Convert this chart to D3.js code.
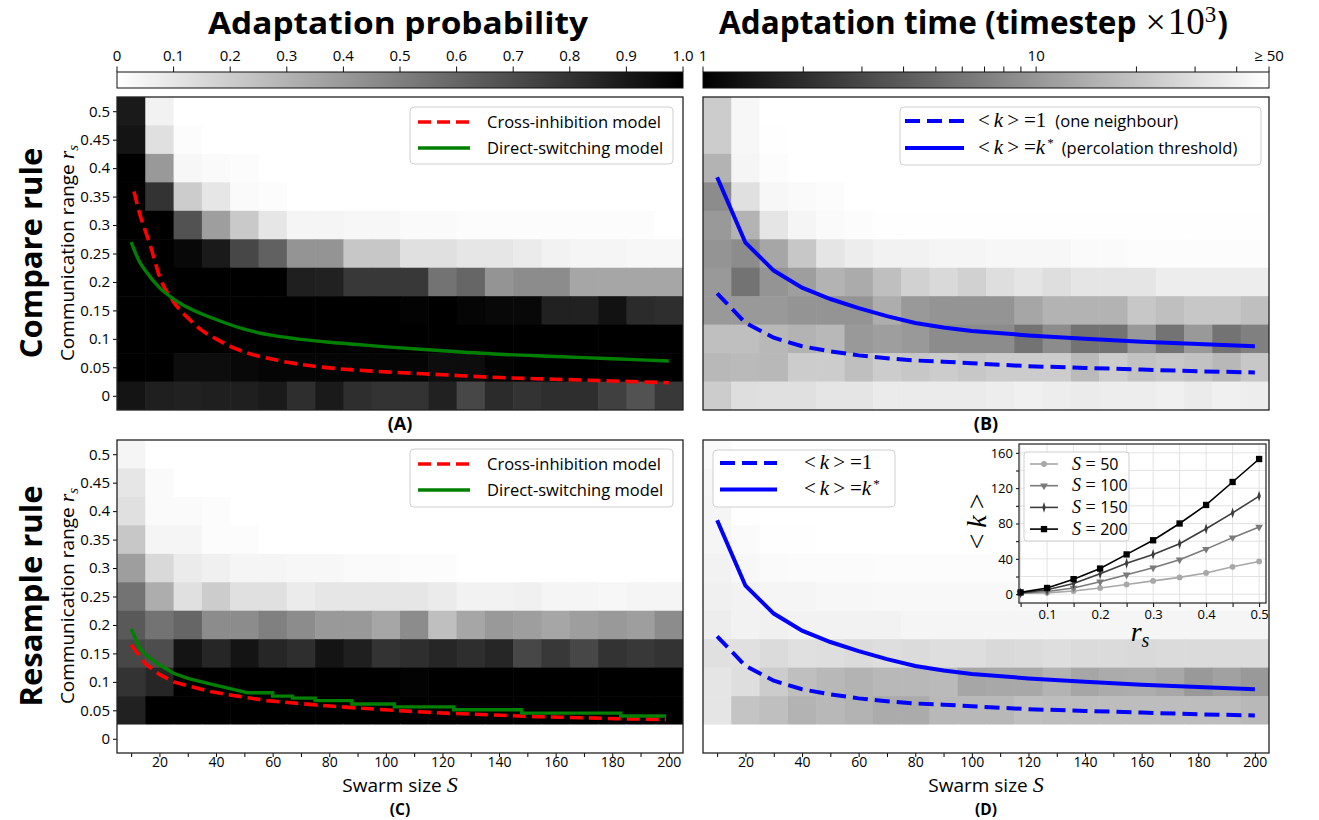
<!DOCTYPE html>
<html>
<head>
<meta charset="utf-8">
<script src="https://cdn.jsdelivr.net/npm/d3@7"></script>
<style>
    body { margin: 0; background: #fff; }
    text { font-family: "Open Sans", "DejaVu Sans", sans-serif; fill: #000; }
    .math { font-family: "Liberation Serif", "DejaVu Serif", serif; font-style: italic; }
    .mathup { font-family: "Liberation Serif", "DejaVu Serif", serif; font-style: normal; }
</style>
</head>
<body>
<svg id="fig" width="1319" height="820"></svg>
<script>
// swarm sizes (columns) and communication ranges (rows, top to bottom)
var sizes = [10, 20, 30, 40, 50, 60, 70, 80, 90, 100, 110, 120, 130, 140, 150, 160, 170, 180, 190, 200];
var ranges = [0.5, 0.45, 0.4, 0.35, 0.3, 0.25, 0.2, 0.15, 0.1, 0.05, 0];
var rangeTicks = [0, 0.05, 0.1, 0.15, 0.2, 0.25, 0.3, 0.35, 0.4, 0.45, 0.5];
var probTicks = [0, 0.1, 0.2, 0.3, 0.4, 0.5, 0.6, 0.7, 0.8, 0.9, 1.0];
var probTickLabels = ["0", "0.1", "0.2", "0.3", "0.4", "0.5", "0.6", "0.7", "0.8", "0.9", "1.0"];
var timeTicks = [1, 2, 3, 4, 5, 6, 7, 8, 9, 10, 20, 30, 40, 50];
var timeTickLabels = { 1: "1", 10: "10", 50: "\u2265 50" };

// (A) adaptation probability, compare rule
var probCompare = [
    [0.90, 0.05, 0, 0, 0, 0, 0, 0, 0, 0, 0, 0, 0, 0, 0, 0, 0, 0, 0, 0],
    [0.92, 0.12, 0.01, 0, 0, 0, 0, 0, 0, 0, 0, 0, 0, 0, 0, 0, 0, 0, 0, 0],
    [1.00, 0.40, 0.03, 0.02, 0.01, 0, 0, 0, 0, 0, 0, 0, 0, 0, 0, 0, 0, 0, 0, 0],
    [1.00, 0.80, 0.20, 0.10, 0.02, 0.01, 0, 0, 0, 0, 0, 0, 0, 0, 0, 0, 0, 0, 0, 0],
    [1.00, 1.00, 0.68, 0.38, 0.21, 0.10, 0.04, 0.04, 0.03, 0.03, 0.02, 0.02, 0.01, 0.01, 0.01, 0.01, 0.01, 0.01, 0.01, 0],
    [1.00, 1.00, 0.97, 0.90, 0.72, 0.62, 0.42, 0.42, 0.22, 0.22, 0.12, 0.12, 0.10, 0.10, 0.08, 0.05, 0.04, 0.04, 0.03, 0.03],
    [1.00, 1.00, 1.00, 1.00, 1.00, 1.00, 0.88, 0.87, 0.78, 0.78, 0.78, 0.55, 0.60, 0.42, 0.45, 0.45, 0.35, 0.35, 0.35, 0.35],
    [1.00, 1.00, 1.00, 1.00, 1.00, 1.00, 1.00, 1.00, 1.00, 1.00, 0.99, 1.00, 0.98, 0.97, 0.97, 0.87, 0.87, 0.93, 0.83, 0.82],
    [1.00, 1.00, 1.00, 1.00, 1.00, 1.00, 1.00, 1.00, 1.00, 1.00, 1.00, 1.00, 1.00, 1.00, 1.00, 1.00, 1.00, 1.00, 1.00, 1.00],
    [1.00, 1.00, 0.95, 0.95, 0.97, 0.98, 0.98, 0.98, 0.98, 0.98, 0.98, 0.95, 0.95, 0.99, 1.00, 1.00, 1.00, 1.00, 1.00, 1.00],
    [0.92, 0.88, 0.87, 0.88, 0.88, 0.90, 0.82, 0.90, 0.82, 0.80, 0.80, 0.87, 0.72, 0.83, 0.80, 0.82, 0.82, 0.75, 0.68, 0.78]
];

// (B) adaptation time (x1000 timesteps), compare rule
var timeCompare = [
    [22.9, 44.5, 50, 50, 50, 50, 50, 50, 50, 50, 50, 50, 50, 50, 50, 50, 50, 50, 50, 50],
    [22.9, 44.5, 49, 50, 50, 50, 50, 50, 50, 50, 50, 50, 50, 50, 50, 50, 50, 50, 50, 50],
    [15.5, 42.8, 48.1, 50, 50, 50, 50, 50, 50, 50, 50, 50, 50, 50, 50, 50, 50, 50, 50, 50],
    [8.6, 31.3, 44.5, 46.2, 48.1, 50, 50, 50, 50, 50, 50, 50, 50, 50, 50, 50, 50, 50, 50, 50],
    [10.5, 15.5, 33.8, 42.8, 46.2, 48.1, 49, 49, 49, 49, 49, 49, 49, 49, 49, 49, 49, 49, 49, 49],
    [9.7, 8.6, 12.7, 21.1, 33.8, 38.0, 41.1, 41.1, 42.8, 42.8, 44.5, 44.5, 44.5, 46.2, 46.2, 48.1, 48.1, 48.1, 48.1, 48.1],
    [10.5, 5.8, 9.7, 11.3, 15.5, 13.8, 18.8, 24.7, 27.8, 24.7, 30.1, 33.8, 30.1, 33.8, 33.8, 33.8, 38.0, 38.0, 38.0, 38.0],
    [10.5, 10.5, 10.5, 9.7, 9.7, 9.7, 14.3, 10.5, 9.7, 9.7, 9.7, 12.7, 15.5, 15.5, 15.5, 21.1, 18.8, 21.1, 21.1, 18.8],
    [18.8, 18.8, 16.7, 15.5, 16.7, 10.5, 11.3, 10.5, 8.6, 8.6, 8.6, 5.8, 8.6, 5.8, 5.8, 10.5, 5.8, 10.5, 5.8, 7.1],
    [16.7, 17.4, 16.7, 22.9, 22.9, 18.8, 22.9, 21.1, 22.9, 21.1, 22.9, 22.9, 22.9, 17.4, 22.9, 19.6, 21.1, 19.6, 16.7, 21.1],
    [22.9, 30.1, 31.3, 31.3, 33.8, 33.8, 36.6, 36.6, 36.6, 36.6, 38.0, 39.5, 38.0, 36.6, 38.0, 38.0, 39.5, 36.6, 39.5, 38.0]
];

// (C) adaptation probability, resample rule
var probResample = [
    [0.04, 0, 0, 0, 0, 0, 0, 0, 0, 0, 0, 0, 0, 0, 0, 0, 0, 0, 0, 0],
    [0.10, 0.02, 0, 0, 0, 0, 0, 0, 0, 0, 0, 0, 0, 0, 0, 0, 0, 0, 0, 0],
    [0.12, 0.02, 0.02, 0.01, 0, 0, 0, 0, 0, 0, 0, 0, 0, 0, 0, 0, 0, 0, 0, 0],
    [0.22, 0.04, 0.04, 0.01, 0.01, 0, 0, 0, 0, 0, 0, 0, 0, 0, 0, 0, 0, 0, 0, 0],
    [0.38, 0.15, 0.08, 0.06, 0.04, 0.04, 0.03, 0.03, 0.02, 0.02, 0.01, 0.01, 0, 0, 0, 0, 0, 0, 0, 0],
    [0.55, 0.32, 0.12, 0.20, 0.12, 0.12, 0.08, 0.10, 0.10, 0.10, 0.10, 0.08, 0.05, 0.05, 0.06, 0.04, 0.04, 0.03, 0.04, 0.04],
    [0.65, 0.55, 0.60, 0.45, 0.45, 0.50, 0.45, 0.40, 0.40, 0.35, 0.45, 0.25, 0.35, 0.40, 0.38, 0.35, 0.38, 0.40, 0.38, 0.45],
    [0.72, 0.70, 0.92, 0.85, 0.92, 0.85, 0.82, 0.92, 0.88, 0.80, 0.82, 0.85, 0.82, 0.85, 0.72, 0.78, 0.72, 0.80, 0.78, 0.80],
    [0.80, 0.85, 1.00, 1.00, 1.00, 1.00, 1.00, 1.00, 1.00, 1.00, 0.99, 1.00, 1.00, 1.00, 1.00, 1.00, 1.00, 1.00, 1.00, 1.00],
    [0.87, 1.00, 1.00, 1.00, 1.00, 1.00, 1.00, 1.00, 1.00, 1.00, 1.00, 1.00, 1.00, 1.00, 1.00, 1.00, 1.00, 1.00, 1.00, 1.00],
    [0, 0, 0, 0, 0, 0, 0, 0, 0, 0, 0, 0, 0, 0, 0, 0, 0, 0, 0, 0]
];

// (D) adaptation time (x1000 timesteps), resample rule
var timeResample = [
    [46.2, 50, 50, 50, 50, 50, 50, 50, 50, 50, 50, 50, 50, 50, 50, 50, 50, 50, 50, 50],
    [44.5, 50, 50, 50, 50, 50, 50, 50, 50, 50, 50, 50, 50, 50, 50, 50, 50, 50, 50, 50],
    [42.8, 49, 50, 50, 50, 50, 50, 50, 50, 50, 50, 50, 50, 50, 50, 50, 50, 50, 50, 50],
    [42.8, 46.2, 49, 49, 50, 50, 50, 50, 50, 50, 50, 50, 50, 50, 50, 50, 50, 50, 50, 50],
    [41.1, 44.5, 46.2, 47, 47, 47, 48, 48, 48, 48, 48, 48, 48, 48, 48, 48, 48, 48, 48, 48],
    [39.5, 41.1, 42.8, 42.8, 44.5, 44.5, 45, 45, 45, 45, 45, 45, 46, 46, 46, 46, 46, 46, 46, 46],
    [38.0, 41.1, 39.5, 41.1, 41.1, 41.1, 41.1, 42.8, 42.8, 42.8, 42.8, 42.8, 42.8, 42.8, 42.8, 42.8, 42.8, 42.8, 42.8, 42.8],
    [31.3, 31.3, 28.9, 31.3, 30.1, 28.9, 30.1, 28.9, 30.1, 30.1, 27.8, 28.9, 30.1, 28.9, 28.9, 27.8, 28.9, 28.9, 28.9, 28.9],
    [33.8, 30.1, 22.9, 18.8, 16.7, 15.5, 16.7, 16.7, 17.4, 12.7, 13.2, 13.2, 15.5, 12.7, 13.8, 14.3, 13.2, 10.5, 11.8, 10.5],
    [33.8, 20.3, 18.8, 15.5, 16.7, 15.5, 13.8, 13.8, 16.7, 16.7, 16.7, 18.8, 18.1, 18.1, 18.1, 18.1, 18.1, 18.1, 18.1, 16.7],
    [50, 50, 50, 50, 50, 50, 50, 50, 50, 50, 50, 50, 50, 50, 50, 50, 50, 50, 50, 50]
];

// model curves [S, r_s]
var crossCompare = [[11, 0.359], [13, 0.32], [15, 0.29], [17, 0.26], [20, 0.21], [25, 0.165], [30, 0.137], [35, 0.115],
    [40, 0.1], [45, 0.087], [50, 0.077], [60, 0.064], [70, 0.055], [80, 0.049], [90, 0.045], [100, 0.042],
    [120, 0.037], [140, 0.032], [160, 0.029], [180, 0.026], [200, 0.023]];
var directCompare = [[10, 0.27], [13, 0.235], [15, 0.22], [20, 0.19], [25, 0.17], [30, 0.155], [40, 0.134], [50, 0.117],
    [60, 0.106], [70, 0.099], [80, 0.094], [90, 0.09], [100, 0.086], [120, 0.079], [140, 0.073], [160, 0.069],
    [180, 0.065], [200, 0.061]];
var crossResample = [[10, 0.165], [15, 0.132], [20, 0.113], [25, 0.1], [30, 0.093], [38, 0.083], [46, 0.076], [58, 0.067],
    [74, 0.06], [90, 0.054], [106, 0.049], [121, 0.045], [137, 0.042], [153, 0.039], [169, 0.037], [184, 0.035], [199, 0.034]];
var directResample = [[10, 0.193], [13, 0.16], [15, 0.148], [20, 0.13], [25, 0.115], [30, 0.106], [35, 0.1], [40, 0.094],
    [45, 0.088], [51, 0.081], [60, 0.081], [60, 0.075], [67, 0.075], [67, 0.0715], [75, 0.0715], [75, 0.067],
    [88, 0.067], [88, 0.061], [103, 0.061], [103, 0.056], [124, 0.056], [124, 0.051], [148, 0.051], [148, 0.045],
    [183, 0.045], [183, 0.04], [199, 0.04]];
var degreeOne = [[10, 0.18], [20, 0.128], [30, 0.102], [40, 0.087], [50, 0.078], [60, 0.071], [70, 0.066], [80, 0.062],
    [90, 0.06], [100, 0.057], [120, 0.052], [140, 0.049], [160, 0.046], [180, 0.043], [200, 0.041]];
var degreeStar = [[10, 0.384], [20, 0.269], [30, 0.22], [40, 0.19], [50, 0.17], [60, 0.154], [70, 0.14], [80, 0.128],
    [90, 0.12], [100, 0.114], [120, 0.106], [140, 0.1], [160, 0.095], [180, 0.091], [200, 0.087]];

// inset: mean degree <k> against r_s
var insetRanges = [0.05, 0.1, 0.15, 0.2, 0.25, 0.3, 0.35, 0.4, 0.45, 0.5];
var degreeS50 = [1, 1.5, 3.5, 7, 11, 15, 19, 24, 31, 37];
var degreeS100 = [1, 3, 7, 14, 22, 30, 39, 51, 64, 76];
var degreeS150 = [1.5, 5, 12, 23, 35, 45, 57, 74, 92, 111];
var degreeS200 = [2, 7, 17, 29, 45, 61, 80, 101, 127, 153];

var svg = d3.select("#fig");
var W = 566, H = 313;
var x = d3.scaleLinear().domain([5, 205]).range([0, W]);
var y = d3.scaleLinear().domain([-0.025, 0.525]).range([H, 0]);
var probColor = d3.scaleLinear().domain([0, 1]).range(["#ffffff", "#000000"]);
var timeColor = d3.scaleLog().domain([1, 50]).range(["#000000", "#ffffff"]).clamp(true);

var defs = svg.append("defs");
defs.append("clipPath").attr("id", "panel-clip")
    .append("rect").attr("width", W).attr("height", H);

function mathText(sel, parts) {
    parts.forEach(function (p) {
        var t = sel.append("tspan").text(p.t);
        if (p.cls) t.attr("class", p.cls);
        if (p.dx) t.attr("dx", p.dx);
        if (p.dy) t.attr("dy", p.dy);
        if (p.size) t.attr("font-size", p.size);
        if (p.weight) t.attr("font-weight", p.weight);
    });
    return sel;
}

// ---- colour bars
function colorbar(left, id, color, stops, ticks, tickPos, labelOf) {
    var grad = defs.append("linearGradient").attr("id", id);
    stops.forEach(function (s) {
        grad.append("stop").attr("offset", s.o).attr("stop-color", color(s.v));
    });
    var g = svg.append("g").attr("transform", "translate(" + left + ",72)");
    g.append("rect").attr("width", W).attr("height", 16)
        .attr("fill", "url(#" + id + ")").attr("stroke", "#111").attr("stroke-width", 1);
    ticks.forEach(function (t) {
        var px = tickPos(t);
        g.append("line").attr("x1", px).attr("x2", px).attr("y1", 0).attr("y2", -5.5)
            .attr("stroke", "#111").attr("stroke-width", 1);
        var lab = labelOf(t);
        if (lab !== null) {
            g.append("text").attr("x", px).attr("y", -11).attr("text-anchor", "middle")
                .attr("font-size", 15).text(lab);
        }
    });
}

var probBar = d3.scaleLinear().domain([0, 1]).range([0, W]);
colorbar(117, "grad-prob", probColor,
    [{ o: 0, v: 0 }, { o: 1, v: 1 }], probTicks, probBar,
    function (t) { return probTickLabels[probTicks.indexOf(t)]; });

var timeBar = d3.scaleLog().domain([1, 50]).range([0, W]);
colorbar(703, "grad-time", timeColor,
    d3.range(0, 1.001, 0.05).map(function (o) { return { o: o, v: timeBar.invert(o * W) }; }),
    timeTicks, timeBar,
    function (t) { return timeTickLabels[t] === undefined ? null : timeTickLabels[t]; });

// ---- titles
svg.append("text").attr("x", 398).attr("y", 34).attr("text-anchor", "middle")
    .attr("font-size", 31).attr("font-weight", 700)
    .attr("textLength", 380).attr("lengthAdjust", "spacingAndGlyphs")
    .text("Adaptation probability");
mathText(svg.append("text").attr("x", 719).attr("y", 34).attr("font-size", 31.5).attr("font-weight", 700), [
    { t: "Adaptation time (timestep" },
    { t: "\u00d7", cls: "mathup", weight: 400, size: 36, dx: "9" },
    { t: "10", cls: "mathup", weight: 400, size: 37, dx: "2" },
    { t: "3", cls: "mathup", weight: 400, dy: "-12", size: 23 },
    { t: ")", dy: "12", dx: "1" }
]);

// ---- panels
function drawPanel(p) {
    var g = svg.append("g").attr("transform", "translate(" + p.left + "," + p.top + ")");
    var cells = [];
    p.grid.forEach(function (row, i) {
        row.forEach(function (v, j) {
            cells.push({ s: sizes[j], r: ranges[i], v: v });
        });
    });
    g.append("g").attr("clip-path", "url(#panel-clip)")
        .selectAll(".cell").data(cells).enter()
        .append("rect")
        .attr("x", function (d) { return x(d.s - 5); })
        .attr("y", function (d) { return y(d.r + 0.025); })
        .attr("width", x(15) - x(5) + 0.6)
        .attr("height", y(0) - y(0.05) + 0.6)
        .attr("fill", function (d) { return p.color(d.v); });

    var curves = g.append("g").attr("clip-path", "url(#panel-clip)");
    p.curves.forEach(function (c) {
        curves.append("path")
            .datum(c.data)
            .attr("fill", "none")
            .attr("stroke", c.stroke)
            .attr("stroke-width", c.width)
            .attr("stroke-dasharray", c.dash)
            .attr("d", d3.line()
                .curve(c.smooth ? d3.curveMonotoneX : d3.curveLinear)
                .x(function (d) { return x(d[0]); })
                .y(function (d) { return y(d[1]); }));
    });

    if (p.yTicks) {
        var ya = g.append("g").call(d3.axisLeft(y).tickValues(rangeTicks).tickSize(4).tickPadding(3)
            .tickFormat(function (d) { return String(d); }));
        ya.select(".domain").remove();
        ya.selectAll("text").attr("font-size", 15).attr("font-family", "Open Sans, sans-serif");
    }
    if (p.xTicks) {
        var xa = g.append("g").attr("transform", "translate(0," + H + ")")
            .call(d3.axisBottom(x).tickValues(sizes).tickSize(4).tickPadding(0)
                .tickFormat(function (d) { return d % 20 === 0 ? d : ""; }));
        xa.select(".domain").remove();
        xa.selectAll("text").attr("font-size", 14).attr("font-family", "Open Sans, sans-serif");
        mathText(g.append("text").attr("x", W / 2).attr("y", 352).attr("text-anchor", "middle").attr("font-size", 19), [
            { t: "Swarm size " }, { t: "S", cls: "math", size: 22 }
        ]);
    }
    g.append("rect").attr("width", W).attr("height", H)
        .attr("fill", "none").attr("stroke", "#222").attr("stroke-width", 1.3);
    g.append("text").attr("x", W / 2).attr("y", p.labelY).attr("text-anchor", "middle")
        .attr("font-size", p.labelSize).attr("font-weight", 700).text(p.label);
    return g;
}

function legend(g, box, items) {
    var lg = g.append("g").attr("transform", "translate(" + box.x + "," + box.y + ")");
    lg.append("rect").attr("width", box.w).attr("height", box.h).attr("rx", 4)
        .attr("fill", "#fff").attr("fill-opacity", 0.92).attr("stroke", "#cfcfcf");
    items.forEach(function (it, i) {
        var cy = box.first + i * box.step;
        lg.append("line").attr("x1", box.l1).attr("x2", box.l2).attr("y1", cy).attr("y2", cy)
            .attr("stroke", it.stroke).attr("stroke-width", it.width).attr("stroke-dasharray", it.dash);
        mathText(lg.append("text").attr("x", box.tx).attr("y", cy).attr("dy", "0.35em")
            .attr("font-size", box.size), it.parts);
    });
}

var red = { stroke: "#ff0000", width: 3.6, dash: "13,6" };
var green = { stroke: "#008000", width: 3.4, dash: null };
var blueDash = { stroke: "#0000ff", width: 4, dash: "15,7" };
var blueSolid = { stroke: "#0000ff", width: 4, dash: null };
function withData(style, data, smooth) {
    return { stroke: style.stroke, width: style.width, dash: style.dash, data: data, smooth: smooth };
}

var gA = drawPanel({ left: 117, top: 97, grid: probCompare, color: probColor, yTicks: true, xTicks: false,
    label: "(A)", labelY: 333, labelSize: 18,
    curves: [withData(red, crossCompare, true), withData(green, directCompare, true)] });
var gB = drawPanel({ left: 703, top: 97, grid: timeCompare, color: timeColor, yTicks: false, xTicks: false,
    label: "(B)", labelY: 333, labelSize: 18,
    curves: [withData(blueDash, degreeOne, false), withData(blueSolid, degreeStar, false)] });
var gC = drawPanel({ left: 117, top: 440, grid: probResample, color: probColor, yTicks: true, xTicks: true,
    label: "(C)", labelY: 374.5, labelSize: 15.5,
    curves: [withData(red, crossResample, false), withData(green, directResample, false)] });
var gD = drawPanel({ left: 703, top: 440, grid: timeResample, color: timeColor, yTicks: false, xTicks: true,
    label: "(D)", labelY: 374.5, labelSize: 15.5,
    curves: [withData(blueDash, degreeOne, false), withData(blueSolid, degreeStar, false)] });

var modelItems = [
    { stroke: red.stroke, width: red.width, dash: red.dash, parts: [{ t: "Cross-inhibition model" }] },
    { stroke: green.stroke, width: green.width, dash: null, parts: [{ t: "Direct-switching model" }] }
];
legend(gA, { x: 293, y: 10, w: 263, h: 57, first: 15, step: 26, l1: 8, l2: 60, tx: 77, size: 16.5 }, modelItems);
legend(gC, { x: 293, y: 9, w: 263, h: 58, first: 15, step: 26, l1: 8, l2: 60, tx: 77, size: 16.5 }, modelItems);

legend(gB, { x: 197, y: 10, w: 361, h: 58, first: 14, step: 27, l1: 5, l2: 64, tx: 78, size: 16.5 }, [
    { stroke: "#0000ff", width: 4, dash: blueDash.dash, parts: [
        { t: "<", cls: "mathup", size: 21 }, { t: "k", cls: "math", size: 21, dx: "4" },
        { t: ">", cls: "mathup", size: 21, dx: "4" }, { t: "=1", cls: "mathup", size: 21, dx: "5" },
        { t: "(one neighbour)", dx: "9" }] },
    { stroke: "#0000ff", width: 4, dash: null, parts: [
        { t: "<", cls: "mathup", size: 21 }, { t: "k", cls: "math", size: 21, dx: "4" },
        { t: ">", cls: "mathup", size: 21, dx: "4" }, { t: "=", cls: "mathup", size: 21, dx: "5" },
        { t: "k", cls: "math", size: 21 }, { t: "*", cls: "mathup", size: 13, dy: "-7", dx: "2" },
        { t: "(percolation threshold)", dy: "7", dx: "8" }] }
]);
legend(gD, { x: 10, y: 10, w: 182, h: 57, first: 13, step: 26.5, l1: 7, l2: 64, tx: 91, size: 16 }, [
    { stroke: "#0000ff", width: 4, dash: blueDash.dash, parts: [
        { t: "<", cls: "mathup", size: 21 }, { t: "k", cls: "math", size: 21, dx: "4" },
        { t: ">", cls: "mathup", size: 21, dx: "4" }, { t: "=1", cls: "mathup", size: 21, dx: "5" }] },
    { stroke: "#0000ff", width: 4, dash: null, parts: [
        { t: "<", cls: "mathup", size: 21 }, { t: "k", cls: "math", size: 21, dx: "4" },
        { t: ">", cls: "mathup", size: 21, dx: "4" }, { t: "=", cls: "mathup", size: 21, dx: "5" },
        { t: "k", cls: "math", size: 21 }, { t: "*", cls: "mathup", size: 13, dy: "-7", dx: "2" }] }
]);

// ---- row labels and y axis titles
[{ t: "Compare rule", cy: 253 }, { t: "Resample rule", cy: 596 }].forEach(function (r) {
    svg.append("text").attr("transform", "translate(42," + r.cy + ") rotate(-90)")
        .attr("text-anchor", "middle").attr("font-size", 31).attr("font-weight", 700).text(r.t);
    mathText(svg.append("text").attr("transform", "translate(74," + r.cy + ") rotate(-90)")
        .attr("text-anchor", "middle").attr("font-size", 19), [
        { t: "Communication range " }, { t: "r", cls: "math", size: 22 }, { t: "s", cls: "math", size: 15, dy: "4" }
    ]);
});

// ---- inset in (D)
var iw = 247, ih = 159;
var ix = d3.scaleLinear().domain([0.047, 0.513]).range([0, iw]);
var iy = d3.scaleLinear().domain([-10, 170]).range([ih, 0]);
var inset = svg.append("g").attr("transform", "translate(1019,444)");
inset.append("rect").attr("width", iw).attr("height", ih).attr("fill", "#fff");
inset.selectAll(".gx").data(insetRanges).enter().append("line")
    .attr("x1", function (d) { return ix(d); }).attr("x2", function (d) { return ix(d); })
    .attr("y1", 0).attr("y2", ih).attr("stroke", "#e3e3e3").attr("stroke-width", 1);
inset.selectAll(".gy").data(d3.range(0, 161, 20)).enter().append("line")
    .attr("y1", function (d) { return iy(d); }).attr("y2", function (d) { return iy(d); })
    .attr("x1", 0).attr("x2", iw).attr("stroke", "#e3e3e3").attr("stroke-width", 1);

var insetSeries = [
    { name: "50", values: degreeS50, color: "#a8a8a8", symbol: d3.symbolCircle, size: 26, rot: 0, sx: 1 },
    { name: "100", values: degreeS100, color: "#7a7a7a", symbol: d3.symbolTriangle, size: 26, rot: 180, sx: 1 },
    { name: "150", values: degreeS150, color: "#3c3c3c", symbol: d3.symbolDiamond, size: 34, rot: 0, sx: 0.55 },
    { name: "200", values: degreeS200, color: "#000000", symbol: d3.symbolSquare, size: 40, rot: 0, sx: 1 }
];
insetSeries.forEach(function (s) {
    var pts = insetRanges.map(function (r, i) { return [r, s.values[i]]; });
    inset.append("path").datum(pts).attr("fill", "none").attr("stroke", s.color).attr("stroke-width", 1.6)
        .attr("d", d3.line().x(function (d) { return ix(d[0]); }).y(function (d) { return iy(d[1]); }));
    inset.selectAll(".m" + s.name).data(pts).enter().append("path")
        .attr("d", d3.symbol().type(s.symbol).size(s.size))
        .attr("transform", function (d) {
            return "translate(" + ix(d[0]) + "," + iy(d[1]) + ") rotate(" + s.rot + ") scale(" + s.sx + ",1)";
        })
        .attr("fill", s.color);
});

var ixa = inset.append("g").attr("transform", "translate(0," + ih + ")")
    .call(d3.axisBottom(ix).tickValues(insetRanges).tickSize(4).tickPadding(3)
        .tickFormat(function (d) { return Math.round(d * 100) % 10 === 0 ? String(d) : ""; }));
var iya = inset.append("g")
    .call(d3.axisLeft(iy).tickValues(d3.range(0, 161, 20)).tickSize(3).tickPadding(3)
        .tickFormat(function (d) { return d % 40 === 0 ? d : ""; }));
[ixa, iya].forEach(function (a) {
    a.select(".domain").remove();
    a.selectAll("text").attr("font-size", 13).attr("font-family", "Open Sans, sans-serif");
});
inset.append("rect").attr("width", iw).attr("height", ih).attr("fill", "none")
    .attr("stroke", "#222").attr("stroke-width", 1.2);

mathText(inset.append("text").attr("transform", "translate(-33," + (ih / 2 - 2) + ") rotate(-90)")
    .attr("text-anchor", "middle").attr("font-size", 28), [
    { t: "<", cls: "mathup" }, { t: "k", cls: "math", dx: "6" }, { t: ">", cls: "mathup", dx: "6" }
]);
mathText(inset.append("text").attr("x", 121).attr("y", 197).attr("text-anchor", "middle").attr("font-size", 28), [
    { t: "r", cls: "math" }, { t: "s", cls: "math", size: 20, dy: "6" }
]);

var ilg = inset.append("g").attr("transform", "translate(5,8)");
ilg.append("rect").attr("width", 105).attr("height", 89).attr("rx", 3)
    .attr("fill", "#fff").attr("stroke", "#cfcfcf");
insetSeries.forEach(function (s, i) {
    var cy = 12 + i * 21.7;
    ilg.append("line").attr("x1", 6).attr("x2", 34).attr("y1", cy).attr("y2", cy)
        .attr("stroke", s.color).attr("stroke-width", 1.6);
    ilg.append("path").attr("d", d3.symbol().type(s.symbol).size(s.size))
        .attr("transform", "translate(20," + cy + ") rotate(" + s.rot + ") scale(" + s.sx + ",1)")
        .attr("fill", s.color);
    mathText(ilg.append("text").attr("x", 48).attr("y", cy).attr("dy", "0.35em").attr("font-size", 16), [
        { t: "S", cls: "math", size: 18 }, { t: " = ", cls: "mathup", size: 18 }, { t: s.name }
    ]);
});
</script>
</body>
</html>
